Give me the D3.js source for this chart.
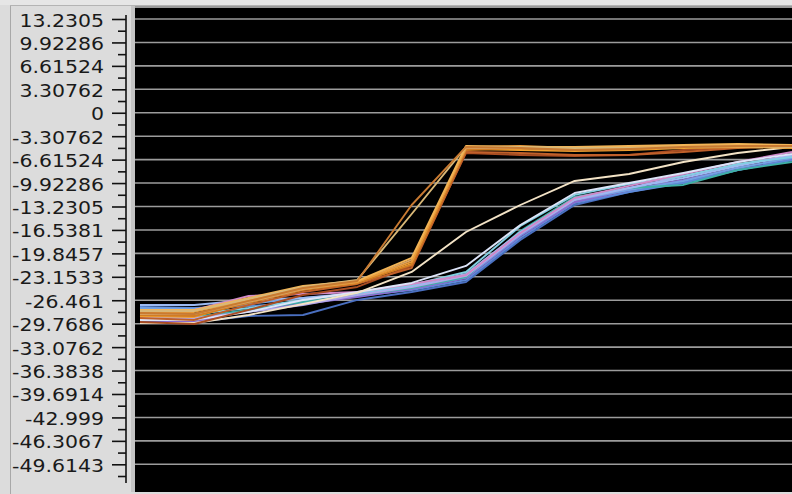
<!DOCTYPE html>
<html>
<head>
<meta charset="utf-8">
<script src="https://cdn.jsdelivr.net/npm/d3@7"></script>
<style>
  html, body { margin: 0; padding: 0; background: #dcdcdc; overflow: hidden; }
  svg { display: block; }
</style>
</head>
<body>
<svg id="chart" width="792" height="494"></svg>
<script>
// Sample steps along the horizontal axis
const steps = d3.range(13);

// Y tick labels as printed on the ruler
const tickLabels = ["13.2305", "9.92286", "6.61524", "3.30762", "0", "-3.30762", "-6.61524",
  "-9.92286", "-13.2305", "-16.5381", "-19.8457", "-23.1533", "-26.461", "-29.7686",
  "-33.0762", "-36.3838", "-39.6914", "-42.999", "-46.3067", "-49.6143"];
const tickValues = tickLabels.map(Number);

// Traces that jump early to the upper plateau (warm colours)
const warmA = [-28.11, -28.11, -26.42, -24.73, -23.88, -21.06, -4.83, -4.69, -4.97, -4.83, -4.69, -4.55, -4.69];
const warmB = [-28.54, -28.68, -26.84, -25.01, -24.02, -21.48, -5.25, -4.97, -5.25, -5.11, -4.83, -4.69, -4.55];
const warmC = [-27.83, -27.83, -26.14, -24.45, -23.74, -20.49, -4.69, -4.83, -4.83, -4.69, -4.55, -4.41, -4.55];
const warmD = [-28.96, -29.24, -27.13, -25.29, -24.16, -21.91, -5.54, -5.68, -5.96, -5.96, -5.54, -4.97, -4.69];
const warmE = [-28.40, -28.40, -26.70, -24.87, -23.88, -20.78, -4.97, -4.97, -5.11, -4.97, -4.83, -4.69, -4.83];
const warmF = [-28.68, -28.82, -26.70, -24.87, -24.02, -21.34, -5.11, -5.25, -5.40, -5.25, -4.97, -4.83, -4.97];
const warmG = [-28.26, -28.40, -26.56, -24.73, -23.74, -13.02, -4.83, -4.97, -5.25, -5.11, -4.83, -4.69, -4.69];
const warmH = [-27.97, -27.97, -26.28, -24.59, -23.60, -14.29, -4.83, -4.83, -4.97, -4.97, -4.83, -4.69, -4.83];
const warmI = [-29.53, -29.81, -27.83, -25.72, -24.59, -21.62, -5.68, -5.96, -6.10, -5.96, -5.25, -4.83, -4.55];

// Traces that rise gradually (cool colours)
const coolA = [-27.41, -27.55, -27.27, -26.84, -25.86, -25.01, -23.60, -17.67, -12.73, -11.18, -9.91, -8.08, -6.67];
const coolB = [-27.13, -27.13, -26.42, -26.14, -25.43, -24.45, -22.75, -16.83, -12.17, -10.62, -9.21, -7.51, -6.10];
const coolC = [-28.96, -28.96, -28.11, -27.13, -25.72, -24.59, -23.03, -17.11, -12.31, -10.62, -8.92, -7.37, -5.96];
const coolD = [-29.24, -29.53, -27.83, -26.99, -26.00, -24.87, -23.32, -17.39, -12.59, -10.90, -9.49, -7.79, -6.38];
const coolE = [-28.68, -28.82, -27.83, -26.70, -25.72, -24.73, -23.18, -16.68, -11.89, -10.62, -10.19, -8.08, -6.95];
const coolF = [-28.40, -28.40, -27.55, -26.42, -25.43, -24.30, -22.47, -15.98, -11.60, -10.05, -8.92, -7.23, -6.24];
const coolG = [-29.24, -29.24, -28.11, -26.42, -25.29, -24.02, -21.62, -15.84, -11.32, -9.91, -8.50, -6.95, -5.82];
const coolH = [-27.83, -27.83, -25.86, -25.57, -25.29, -24.16, -22.89, -16.97, -12.03, -10.33, -8.64, -6.95, -5.54];
const coolI = [-29.53, -29.53, -28.68, -28.54, -26.42, -25.29, -23.88, -17.95, -13.02, -11.18, -9.77, -8.08, -6.67];
const coolJ = [-27.55, -27.69, -26.99, -26.14, -25.57, -24.59, -23.18, -17.25, -12.31, -10.90, -9.63, -7.79, -6.38];

// The pale trace that climbs in between the two groups
const paleA = [-29.67, -29.67, -28.54, -26.99, -25.43, -22.47, -16.83, -13.02, -9.63, -8.64, -6.95, -5.68, -4.83];

// Drawing order (bottom to top) with line colours
const traces = [
  { values: coolI, color: "#4a6fc0" },
  { values: coolA, color: "#5d8ad8" },
  { values: coolD, color: "#8b6cd0" },
  { values: coolJ, color: "#74a2e2" },
  { values: coolE, color: "#3fb0a6" },
  { values: coolC, color: "#b2a8ea" },
  { values: coolB, color: "#9cbaf2" },
  { values: coolF, color: "#82d0e2" },
  { values: coolH, color: "#d08ac8" },
  { values: coolG, color: "#dde4f8" },
  { values: paleA, color: "#f3e3c6" },
  { values: warmI, color: "#a84c22" },
  { values: warmD, color: "#c0602a" },
  { values: warmF, color: "#f0a232" },
  { values: warmB, color: "#d27c22" },
  { values: warmE, color: "#d8a262" },
  { values: warmA, color: "#e89a3a" },
  { values: warmC, color: "#f2b456" },
  { values: warmH, color: "#d9b877" },
  { values: warmG, color: "#c87a32" }
];

const svg = d3.select("#chart");
const W = 792, H = 494;
const plot = { left: 135, top: 8, right: 792, bottom: 492 };

const x = d3.scaleLinear().domain([0, 12]).range([140, 792]);
const y = d3.scaleLinear().domain([13.2305, -49.6143]).range([19, 464.3]);

// Panel background and frame
svg.append("rect").attr("x", 0).attr("y", 0).attr("width", W).attr("height", H).attr("fill", "#dcdcdc");
svg.append("rect").attr("x", 0).attr("y", 0).attr("width", W).attr("height", 5).attr("fill", "#e6e6e6");
svg.append("line").attr("x1", 10.5).attr("x2", 10.5).attr("y1", 5).attr("y2", H)
  .attr("stroke", "#a8a8a8").attr("stroke-width", 1);
svg.append("line").attr("x1", 10).attr("x2", W).attr("y1", 5.5).attr("y2", 5.5)
  .attr("stroke", "#b4b4b4").attr("stroke-width", 1);
svg.append("rect").attr("x", 131).attr("y", 6).attr("width", 4).attr("height", plot.bottom - 6)
  .attr("fill", "#c4c4c4");
svg.append("rect").attr("x", plot.left).attr("y", 6).attr("width", plot.right - plot.left).attr("height", 2)
  .attr("fill", "#9a9a9a");

// Plot area
svg.append("rect")
  .attr("x", plot.left).attr("y", plot.top)
  .attr("width", plot.right - plot.left).attr("height", plot.bottom - plot.top)
  .attr("fill", "#000");

// Horizontal grid lines at each labelled value
svg.append("g").selectAll("line").data(tickValues).join("line")
  .attr("x1", plot.left).attr("x2", plot.right)
  .attr("y1", d => y(d)).attr("y2", d => y(d))
  .attr("stroke", "#9c9c9c").attr("stroke-width", 1.6);

// Traces
svg.append("clipPath").attr("id", "plotClip").append("rect")
  .attr("x", plot.left).attr("y", plot.top)
  .attr("width", plot.right - plot.left).attr("height", plot.bottom - plot.top);

const line = d3.line().x((d, i) => x(steps[i])).y(d => y(d));
svg.append("g").attr("clip-path", "url(#plotClip)")
  .selectAll("path").data(traces).join("path")
  .attr("d", d => line(d.values))
  .attr("fill", "none")
  .attr("stroke", d => d.color)
  .attr("stroke-width", 1.9)
  .attr("stroke-linejoin", "round");

// Vertical ruler on the left
const axisX = 126;
const step = tickValues[0] - tickValues[1];
const minorValues = tickValues.map(v => v - step / 2);

svg.append("line").attr("x1", axisX).attr("x2", axisX).attr("y1", 15).attr("y2", 483)
  .attr("stroke", "#111").attr("stroke-width", 1.6);

const minorAxis = svg.append("g").attr("transform", `translate(${axisX},0)`)
  .call(d3.axisLeft(y).tickValues(minorValues).tickSize(8).tickSizeOuter(0).tickFormat(""));
minorAxis.select(".domain").remove();
minorAxis.selectAll(".tick line").attr("stroke", "#111").attr("stroke-width", 1.6);

const majorAxis = svg.append("g").attr("transform", `translate(${axisX},0)`)
  .call(d3.axisLeft(y).tickValues(tickValues).tickSize(14).tickSizeOuter(0)
    .tickFormat((d, i) => tickLabels[i]));
majorAxis.select(".domain").remove();
majorAxis.selectAll(".tick line").attr("stroke", "#111").attr("stroke-width", 1.6);

const sx = 1.17;
majorAxis.selectAll(".tick text")
  .attr("x", -22 / sx)
  .attr("dy", "0.4em")
  .attr("transform", `scale(${sx},1)`)
  .attr("fill", "#1a1a1a")
  .style("font-family", "'DejaVu Sans', sans-serif")
  .style("font-size", "17.5px");
</script>
</body>
</html>
